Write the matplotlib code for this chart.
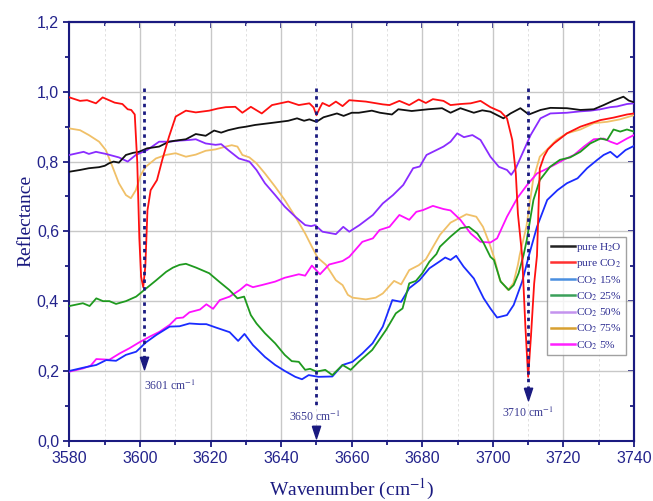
import numpy as np
import matplotlib
matplotlib.use("Agg")
import matplotlib.pyplot as plt
from matplotlib.lines import Line2D
from matplotlib.ticker import MultipleLocator, FuncFormatter

plt.rcParams['font.family'] = ['Liberation Serif', 'DejaVu Serif']
plt.rcParams['mathtext.fontset'] = 'stix'

# ---- data ----
wn_h2o = [3580, 3583, 3585.5, 3588.4, 3590, 3591.2, 3592.5, 3594, 3596, 3598, 3599.7, 3602,
          3605.4, 3608.2, 3610, 3613, 3615.8, 3618.6, 3621, 3623, 3625, 3628, 3630, 3632.6,
          3637.4, 3642, 3644.5, 3646.5, 3648, 3650, 3652, 3655.8, 3657.7, 3660, 3662, 3665.7,
          3668, 3671.4, 3673.2, 3677, 3681.7, 3685.6, 3688, 3690.8, 3694.6, 3697, 3699.3, 3703,
          3705, 3707.8, 3710.2, 3713.5, 3716.3, 3721, 3724.8, 3728.6, 3731.4, 3734.2, 3737,
          3738.5, 3740]
r_h2o = [0.771, 0.776, 0.781, 0.784, 0.788, 0.795, 0.800, 0.797, 0.819, 0.825, 0.828, 0.838,
         0.843, 0.857, 0.860, 0.864, 0.879, 0.874, 0.889, 0.883, 0.890, 0.897, 0.900, 0.905,
         0.911, 0.917, 0.924, 0.917, 0.921, 0.914, 0.927, 0.938, 0.931, 0.940, 0.940, 0.946,
         0.940, 0.935, 0.950, 0.945, 0.950, 0.953, 0.940, 0.953, 0.940, 0.947, 0.943, 0.924,
         0.938, 0.953, 0.935, 0.948, 0.954, 0.953, 0.948, 0.950, 0.962, 0.975, 0.986,
         0.975, 0.970]

wn_co2 = [3580, 3583, 3585, 3587.5, 3589.4, 3592.8, 3595, 3596.5, 3597.5, 3598.5, 3599.2,
          3599.8, 3600.3, 3600.9, 3601.5, 3602.1, 3603, 3604.8, 3606.3, 3608.2, 3610.1, 3613,
          3615.8, 3619.6, 3622, 3624.3, 3627, 3629, 3631.4, 3634.5, 3637.4, 3642, 3645, 3648,
          3649.2, 3650, 3651, 3651.7, 3653.6, 3655.5, 3657.4, 3659.3, 3664, 3668.8, 3670.7,
          3673.5, 3676.3, 3679, 3681, 3683, 3686, 3688, 3690.8, 3693.7, 3696.5, 3699.3, 3702.2,
          3704, 3705.5, 3706.5, 3707.1, 3708.3, 3709.2, 3710, 3710.8, 3711.7, 3712.5, 3713.3,
          3714.5, 3715.6, 3717.3, 3721, 3724.8, 3727.7, 3730.5, 3734.2, 3738, 3740]
r_co2 = [0.984, 0.974, 0.976, 0.967, 0.984, 0.969, 0.965, 0.950, 0.948, 0.935, 0.800,
         0.580, 0.470, 0.440, 0.500, 0.660, 0.718, 0.747, 0.805, 0.871, 0.929, 0.946,
         0.941, 0.946, 0.952, 0.956, 0.957, 0.940, 0.957, 0.938, 0.962, 0.972, 0.962, 0.967,
         0.955, 0.933, 0.955, 0.968, 0.959, 0.972, 0.959, 0.976, 0.972, 0.964, 0.962,
         0.974, 0.962, 0.978, 0.968, 0.979, 0.974, 0.962, 0.965, 0.967, 0.974, 0.956, 0.943,
         0.924, 0.862, 0.766, 0.650, 0.530, 0.330, 0.183, 0.300, 0.450, 0.530, 0.780,
         0.815, 0.835, 0.852, 0.881, 0.900, 0.910, 0.919, 0.926, 0.935, 0.938]

wn_15 = [3580, 3583.8, 3587.6, 3590.4, 3593.2, 3596, 3598.9, 3601.7, 3604.6, 3608.4, 3611.2,
         3614, 3617, 3618.8, 3621.6, 3625.4, 3627.8, 3629.6, 3632, 3635.4, 3638.3, 3641, 3644,
         3645.9, 3647.8, 3650.6, 3654.5, 3657.4, 3660.2, 3663, 3665.9, 3668.8, 3671.5, 3674,
         3676.3, 3679.2, 3682, 3684.8, 3686.5, 3688, 3689.6, 3691.7, 3694.6, 3697.4, 3699.3,
         3701.2, 3704, 3705.9, 3708.3, 3710.2, 3712.5, 3715.4, 3718.3, 3721, 3724, 3726.7,
         3729.6, 3731.4, 3733.3, 3735.2, 3737.6, 3740]
r_15 = [0.200, 0.209, 0.217, 0.231, 0.229, 0.246, 0.255, 0.282, 0.303, 0.327, 0.328,
        0.336, 0.334, 0.334, 0.324, 0.311, 0.286, 0.306, 0.274, 0.240, 0.217, 0.200, 0.183,
        0.176, 0.188, 0.183, 0.184, 0.217, 0.226, 0.250, 0.279, 0.327, 0.403, 0.398,
        0.437, 0.460, 0.494, 0.513, 0.525, 0.518, 0.530, 0.499, 0.465, 0.408, 0.379,
        0.353, 0.360, 0.389, 0.456, 0.530, 0.613, 0.690, 0.718, 0.738, 0.752, 0.781,
        0.805, 0.819, 0.828, 0.812, 0.833, 0.845]

wn_25 = [3580, 3583.8, 3585.7, 3587.6, 3589.5, 3591.3, 3593.2, 3596, 3598.9, 3601.2, 3604.6,
         3607.4, 3609.3, 3611.2, 3613, 3615.9, 3619.6, 3622.4, 3625.3, 3627.6, 3629.5, 3631.4,
         3633, 3635.4, 3638.3, 3641, 3643, 3645, 3646.8, 3648.2, 3650, 3652.5, 3654.5, 3657.4,
         3659.7, 3662, 3665.8, 3669.7, 3672.5, 3674.4, 3676.3, 3678.2, 3680, 3682, 3684,
         3685, 3688, 3690.8, 3693.2, 3695.6, 3697.4, 3699.3, 3700.3, 3702.2, 3704.5, 3705.9,
         3707.3, 3708.7, 3709.6, 3711.5, 3713.3, 3716.2, 3719, 3721.9, 3724.8, 3727.6, 3730.5,
         3732.4, 3734.2, 3736.1, 3738, 3740]
r_25 = [0.386, 0.394, 0.386, 0.408, 0.400, 0.400, 0.392, 0.400, 0.413, 0.432, 0.460,
        0.484, 0.496, 0.504, 0.507, 0.496, 0.480, 0.456, 0.432, 0.408, 0.413, 0.360,
        0.336, 0.308, 0.279, 0.246, 0.228, 0.226, 0.203, 0.206, 0.198, 0.203, 0.188, 0.217,
        0.203, 0.226, 0.260, 0.317, 0.365, 0.379, 0.451, 0.458, 0.480, 0.513, 0.535,
        0.556, 0.585, 0.609, 0.613, 0.594, 0.566, 0.527, 0.518, 0.456, 0.432, 0.446,
        0.480, 0.532, 0.575, 0.690, 0.747, 0.785, 0.805, 0.812, 0.828, 0.852, 0.866,
        0.862, 0.892, 0.886, 0.892, 0.886]

wn_50 = [3580, 3584, 3585.5, 3587.5, 3590.3, 3594, 3596.5, 3598.8, 3602, 3605.4, 3608.2,
         3611, 3614, 3615.8, 3618.6, 3621.4, 3623, 3625, 3628, 3631, 3633, 3635.4, 3638.3,
         3641, 3644, 3646.8, 3648.5, 3649.6, 3651.7, 3655.5, 3657.6, 3659.3, 3662.2, 3666,
         3668.8, 3671.7, 3674.6, 3677.4, 3679.3, 3681.2, 3683, 3686, 3688, 3689.9, 3691.8,
         3694.2, 3696.5, 3699.3, 3701.7, 3704, 3705.2, 3706.5, 3708.8, 3710.7, 3713.5, 3716.3,
         3721, 3724.8, 3727.7, 3730.5, 3733.3, 3735.2, 3738, 3740]
r_50 = [0.819, 0.828, 0.822, 0.828, 0.822, 0.812, 0.800, 0.819, 0.833, 0.857, 0.857,
        0.860, 0.862, 0.864, 0.852, 0.848, 0.850, 0.833, 0.809, 0.800, 0.776, 0.738, 0.704,
        0.671, 0.642, 0.618, 0.615, 0.618, 0.599, 0.592, 0.613, 0.599, 0.618, 0.647,
        0.680, 0.704, 0.733, 0.781, 0.786, 0.819, 0.828, 0.843, 0.857, 0.881, 0.870,
        0.876, 0.862, 0.814, 0.785, 0.776, 0.762, 0.781, 0.833, 0.876, 0.924, 0.938,
        0.940, 0.944, 0.946, 0.950, 0.956, 0.958, 0.965, 0.967]

wn_75 = [3580, 3583, 3585.5, 3588.4, 3590.3, 3592.2, 3594, 3596, 3597.4, 3598.8, 3600.2,
         3601.6, 3604.5, 3607.3, 3610.1, 3613, 3615.8, 3618.6, 3621.4, 3624.3, 3626, 3627.6,
         3629, 3631, 3633, 3635.4, 3638.3, 3641, 3644, 3646.8, 3648.7, 3650.3, 3652.7, 3655.5,
         3657.4, 3658.9, 3660.2, 3664, 3666.8, 3668.8, 3672, 3674, 3676.3, 3679, 3681, 3683,
         3685, 3688, 3692.5, 3695.3, 3697.2, 3699, 3700.5, 3702, 3704.3, 3705.8, 3707.1,
         3707.6, 3709.5, 3711.4, 3713.3, 3715.2, 3718, 3721, 3724.8, 3728.6, 3732.4, 3736, 3740]
r_75 = [0.895, 0.890, 0.876, 0.857, 0.833, 0.785, 0.738, 0.704, 0.695, 0.718, 0.762,
        0.785, 0.809, 0.819, 0.824, 0.814, 0.820, 0.831, 0.835, 0.843, 0.847, 0.843,
        0.819, 0.812, 0.795, 0.766, 0.728, 0.690, 0.642, 0.594, 0.556, 0.525, 0.504, 0.460,
        0.446, 0.418, 0.410, 0.405, 0.410, 0.422, 0.458, 0.448, 0.489, 0.503, 0.520, 0.555,
        0.590, 0.625, 0.649, 0.642, 0.613, 0.566, 0.520, 0.460, 0.432, 0.451, 0.504,
        0.532, 0.613, 0.747, 0.814, 0.833, 0.862, 0.881, 0.892, 0.910, 0.914, 0.921, 0.933]

wn_5 = [3580, 3583.8, 3586, 3587.6, 3591.3, 3594.2, 3597, 3599.8, 3602.7, 3605.5, 3608.4,
        3610.3, 3612.2, 3614, 3617, 3618.8, 3620.7, 3622.6, 3625.4, 3628.3, 3630.2, 3632,
        3634.5, 3638.3, 3641, 3645, 3646.8, 3648.7, 3651, 3653.6, 3657.4, 3659.3, 3663, 3666,
        3667.9, 3670.7, 3673.5, 3676.3, 3678.3, 3680.2, 3683, 3686, 3688, 3690.8, 3693.7,
        3696.5, 3699.3, 3701.2, 3704, 3706.9, 3709.7, 3712.5, 3714.4, 3717.3, 3720, 3723,
        3725.8, 3728.6, 3731.4, 3733.3, 3735.2, 3738, 3740]
r_5 = [0.198, 0.207, 0.215, 0.234, 0.232, 0.250, 0.265, 0.282, 0.298, 0.312, 0.332,
       0.351, 0.353, 0.368, 0.376, 0.391, 0.378, 0.403, 0.413, 0.432, 0.448, 0.440,
       0.446, 0.456, 0.467, 0.477, 0.473, 0.502, 0.477, 0.505, 0.515, 0.527, 0.570, 0.580,
       0.604, 0.613, 0.647, 0.633, 0.656, 0.661, 0.673, 0.664, 0.660, 0.633, 0.594,
       0.570, 0.568, 0.580, 0.642, 0.695, 0.733, 0.766, 0.775, 0.790, 0.805, 0.819,
       0.843, 0.864, 0.866, 0.857, 0.850, 0.866, 0.876]

labels = ['pure H$_2$O', 'pure CO$_2$', 'CO$_2$ 15%', 'CO$_2$ 25%',
          'CO$_2$ 50%', 'CO$_2$ 75%', 'CO$_2$ 5%']
line_colors = ['#111111', '#ff1010', '#1a2cff', '#1f9a1f', '#8a2cff', '#f0c068', '#ff10ff']
legend_colors = ['#222222', '#ff3030', '#4a8fe0', '#3aa05a', '#c493ee', '#d8a030', '#ff20ff']

peaks = [3601, 3650, 3710]
peak_texts = ['3601 cm$^{-1}$', '3650 cm$^{-1}$', '3710 cm$^{-1}$']

navy = '#1a1a80'
label_navy = '#23238c'

# ---- figure ----
fig = plt.figure(figsize=(6.53, 5.01), dpi=100)
ax = fig.add_axes([0.1064, 0.1204, 0.8645, 0.8356])

series = [(wn_h2o, r_h2o), (wn_co2, r_co2), (wn_15, r_15), (wn_25, r_25),
          (wn_50, r_50), (wn_75, r_75), (wn_5, r_5)]
# draw order roughly as in reference
for i in [5, 4, 6, 2, 3, 0, 1]:
    x, y = series[i]
    ax.plot(x, y, color=line_colors[i], lw=1.3, zorder=3)

ax.set_xlim(3580, 3740)
ax.set_ylim(0, 1.2)

ax.xaxis.set_major_locator(MultipleLocator(20))
ax.xaxis.set_minor_locator(MultipleLocator(10))
ax.yaxis.set_major_locator(MultipleLocator(0.2))
ax.yaxis.set_minor_locator(MultipleLocator(0.1))
ax.yaxis.set_major_formatter(FuncFormatter(lambda v, p: ('%.1f' % v).replace('.', ',')))

ax.grid(which='major', color='#c8c8c8', lw=1.0, zorder=0)
ax.grid(which='minor', axis='x', color='#dcdcdc', lw=0.6, ls=(0, (3, 3)), zorder=0)

for s in ax.spines.values():
    s.set_color(navy)
    s.set_linewidth(1.5)

ax.tick_params(which='both', direction='out', color=navy, width=1.3,
               labelcolor=label_navy, labelsize=11.5)
ax.tick_params(which='major', length=4)
ax.tick_params(which='minor', length=3)
for lab in ax.get_xticklabels() + ax.get_yticklabels():
    lab.set_family('Liberation Sans')

top = ax.secondary_xaxis('top')
top.xaxis.set_major_locator(MultipleLocator(20))
top.xaxis.set_minor_locator(MultipleLocator(10))
top.tick_params(which='both', direction='in', color=navy, width=1.3, labeltop=False)
top.tick_params(which='major', length=4)
top.tick_params(which='minor', length=3)
top.spines['top'].set_color(navy)
top.spines['top'].set_linewidth(1.5)

right = ax.secondary_yaxis('right')
right.yaxis.set_major_locator(MultipleLocator(0.2))
right.yaxis.set_minor_locator(MultipleLocator(0.1))
right.tick_params(which='both', direction='in', color=navy, width=1.3, labelright=False)
right.tick_params(which='major', length=4)
right.tick_params(which='minor', length=3)
right.spines['right'].set_color(navy)
right.spines['right'].set_linewidth(1.5)

ax.set_xlabel('Wavenumber (cm$^{-1}$)', fontsize=14, color=navy, labelpad=7.5)
ax.set_ylabel('Reflectance', fontsize=14, color=navy)
ax.yaxis.set_label_coords(-0.062, 0.525)

# ---- peak markers ----
line_ends = [0.24, 0.097, 0.15]
head_y = [0.223, 0.025, 0.134]
text_pos = [(3608.4, 0.157), (3649.6, 0.069), (3709.8, 0.080)]
head = [(-0.33, 0.5), (0.33, 0.5), (0.0, -0.5), (-0.33, 0.5)]
for p, yend, hy, (tx, ty), t in zip(peaks, line_ends, head_y, text_pos, peak_texts):
    ax.plot([p, p], [1.01, yend], color=navy, lw=2.0, ls=(0, (1.25, 1.5)),
            dash_capstyle='butt', zorder=4)
    ax.plot([p], [hy], marker=head, ms=9, color=navy, mec=navy, zorder=4)
    ax.text(tx, ty, t, ha='center', va='center', fontsize=8.5, color='#3a3a92', zorder=5)

# ---- legend ----
handles = [Line2D([], [], color=c, lw=1.8) for c in legend_colors]
leg = ax.legend(handles, labels, loc='upper right', bbox_to_anchor=(0.985, 0.486),
                borderaxespad=0, fontsize=8.2, frameon=True, fancybox=False,
                handlelength=2.1, handletextpad=0.15, labelspacing=0.33,
                borderpad=0.3)
leg.get_frame().set_edgecolor('#8a8a8a')
leg.get_frame().set_linewidth(1.0)
for t in leg.get_texts():
    t.set_color('#2a2a90')

fig.savefig('out.png', dpi=100)
